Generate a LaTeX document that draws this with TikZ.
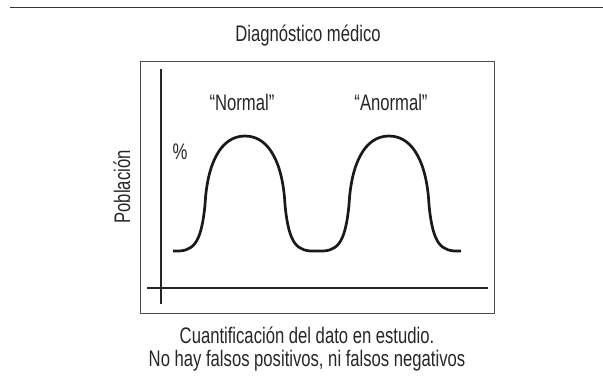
\documentclass[tikz,border=0pt]{standalone}
\usepackage{fontspec}
\setmainfont{Liberation Sans}[FakeStretch=0.74]
\tikzset{
  label/.style={font=\fontsize{22.5}{26}\selectfont, text=black!85, inner sep=0pt},
  axis/.style={line width=1.1pt, black!85},
  curve/.style={line width=2.7pt, black!90, line join=round}
}
\begin{document}
\begin{tikzpicture}[x=1pt,y=-1pt]
\useasboundingbox (0,0) rectangle (603,381);

% top rule and title
\draw[line width=1.3pt, black!80] (10,7.5) -- (603,7.5);
\node[label, anchor=base] (title) at (308,41) {Diagnóstico médico};

% frame and axes
\draw[line width=1pt, black!70] (140,61) rectangle (494,313);
\draw[axis] (161,69) -- (161,304);
\draw[axis] (147,288) -- (488,288);

\node[label, rotate=90] (ylabel) at (122,187) {Población};
\node[label] (pct) at (180,152) {\%};
\node[label, anchor=base] (normal) at (242,110) {“Normal”};
\node[label, anchor=base] (anormal) at (391,110) {“Anormal”};

% the two populations
\draw[curve] (173,251)
  .. controls (193,252) and (201,245) .. (205,205)
  .. controls (207,165) and (220,136) .. (245,136)
  .. controls (270,136) and (283,165) .. (285,205)
  .. controls (289,245) and (297,252) .. (317,251)
  .. controls (337,252) and (345,245) .. (349,205)
  .. controls (351,165) and (364,136) .. (389,136)
  .. controls (414,136) and (427,165) .. (429,205)
  .. controls (433,245) and (441,252) .. (461,251);

% caption
\node[label, anchor=base] (cap1) at (307,343) {Cuantificación del dato en estudio.};
\node[label, anchor=base] (cap2) at (307,366) {No hay falsos positivos, ni falsos negativos};
\end{tikzpicture}
\end{document}
